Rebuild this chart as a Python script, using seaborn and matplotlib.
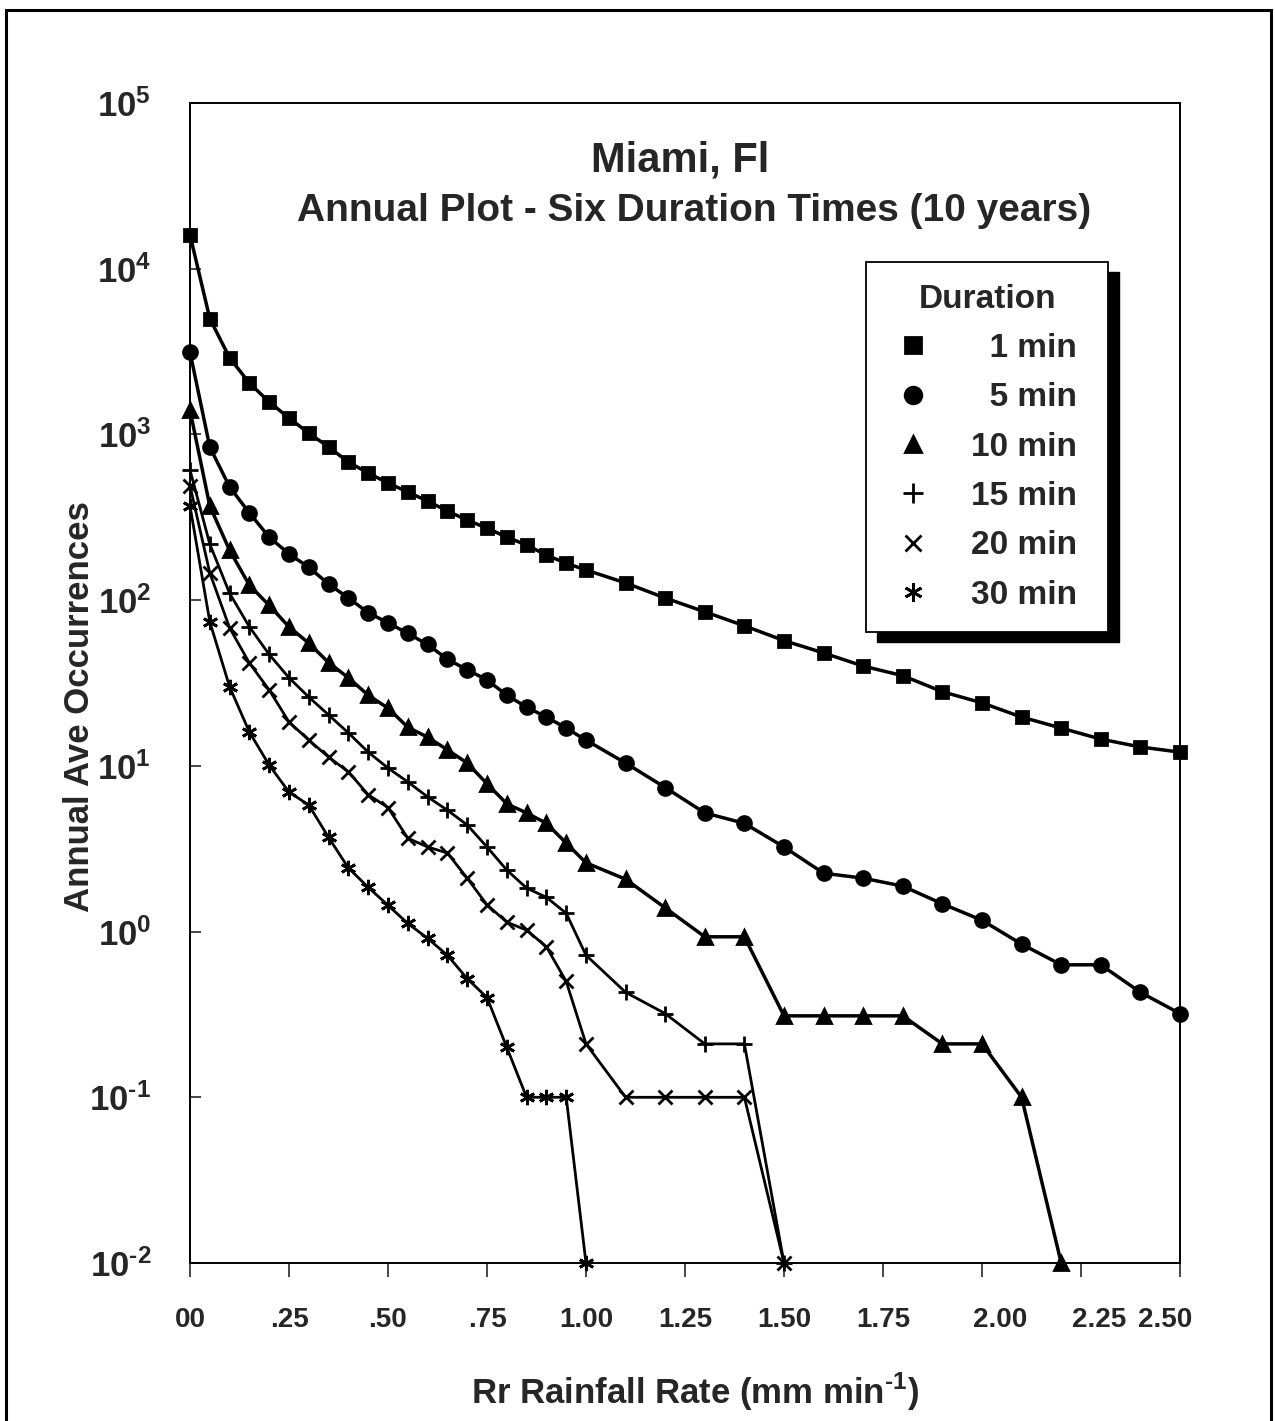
import numpy as np
import pandas as pd
import matplotlib
matplotlib.use('Agg')
import matplotlib.pyplot as plt
import matplotlib.transforms as mtransforms
from matplotlib.lines import Line2D
from matplotlib.patches import Rectangle
import seaborn as sns

# ── data ─────────────────────────────────────────────────────────────────────
x_fine = [0.00, 0.05, 0.10, 0.15, 0.20, 0.25, 0.30, 0.35, 0.40, 0.45, 0.50,
          0.55, 0.60, 0.65, 0.70, 0.75, 0.80, 0.85, 0.90, 0.95, 1.00]
x_coarse = [1.1, 1.2, 1.3, 1.4, 1.5, 1.6, 1.7, 1.8, 1.9, 2.0, 2.1, 2.2, 2.3, 2.4, 2.5]

y_1min = [16000, 5000, 2900, 2040, 1570, 1256, 1018, 840, 681, 585, 509,
          449, 396, 345, 304, 272, 240, 215, 187, 167, 152,
          127, 103, 85, 70, 57, 48, 40, 35, 28, 24, 19.7, 16.9, 14.5, 13, 12.1]
y_5min = [3140, 840, 482, 336, 240, 190, 158, 125, 103, 84, 73,
          63, 54, 44, 38, 33, 26.7, 22.6, 19.7, 16.9, 14.3,
          10.4, 7.4, 5.2, 4.5, 3.24, 2.25, 2.1, 1.88, 1.47, 1.17, 0.84, 0.63, 0.63, 0.43, 0.32]
y_10min = [1400, 370, 200, 123, 93, 69, 55, 42, 34, 26.7, 22.3,
           17.1, 14.9, 12.5, 10.4, 7.8, 5.9, 5.2, 4.5, 3.42, 2.6,
           2.07, 1.39, 0.93, 0.93, 0.31, 0.31, 0.31, 0.31, 0.21, 0.21, 0.10, 0.01]
y_15min = [610, 218, 110, 69, 47, 34, 26, 20.3, 15.8, 12.1, 9.7,
           8.0, 6.5, 5.4, 4.4, 3.24, 2.35, 1.83, 1.61, 1.29, 0.72,
           0.43, 0.32, 0.21, 0.21, 0.01]
y_20min = [490, 146, 68, 41.7, 28.7, 18.4, 14.3, 11.3, 9.2, 6.7, 5.6,
           3.66, 3.24, 2.98, 2.1, 1.45, 1.14, 1.02, 0.81, 0.50, 0.21,
           0.10, 0.10, 0.10, 0.10, 0.01]
y_30min = [370, 74, 30, 16, 10.1, 6.95, 5.8, 3.7, 2.42, 1.85, 1.44,
           1.12, 0.91, 0.72, 0.52, 0.40, 0.20, 0.10, 0.10, 0.10, 0.01]

durations = ['1 min', '5 min', '10 min', '15 min', '20 min', '30 min']
series_y = [y_1min, y_5min, y_10min, y_15min, y_20min, y_30min]

x_ticks = [0, 0.25, 0.5, 0.75, 1.0, 1.25, 1.5, 1.75, 2.0, 2.25, 2.5]
x_ticklabels = ['00', '.25', '.50', '.75', '1.00', '1.25', '1.50', '1.75', '2.00', '2.25', '2.50']
y_exps = [-2, -1, 0, 1, 2, 3, 4, 5]

# ── style ────────────────────────────────────────────────────────────────────
sns.set_style('ticks')
plt.rcParams['font.family'] = ['Liberation Sans', 'DejaVu Sans']
plt.rcParams['font.weight'] = 'bold'
HYPHEN = '\u2010'

markers = {'1 min': 's', '5 min': 'o', '10 min': '^', '15 min': '+', '20 min': 'x', '30 min': (6, 2, 0)}
msize = {'1 min': 9, '5 min': 10, '10 min': 10, '15 min': 12, '20 min': 10, '30 min': 11}
lwidth = {'1 min': 2.5, '5 min': 2.5, '10 min': 2.5, '15 min': 2.0, '20 min': 2.0, '30 min': 2.0}

fig = plt.figure(figsize=(12.75, 14.21), dpi=100)
ax = fig.add_axes([190/1275, 1 - 1263/1421, 990/1275, 1160/1421])

for name, ys in zip(durations, series_y):
    xs = (x_fine + x_coarse)[:len(ys)]
    df = pd.DataFrame({'x': xs, 'y': ys})
    sns.lineplot(data=df, x='x', y='y', ax=ax, color='black', lw=lwidth[name],
                 marker=markers[name], markersize=msize[name], markeredgewidth=2,
                 markeredgecolor='black', markerfacecolor='black',
                 estimator=None, sort=False, clip_on=False, zorder=3)

ax.set_yscale('log')
ax.set_xlim(0, 2.5)
ax.set_ylim(1e-2, 1e5)
ax.set_xlabel('')
ax.set_ylabel('')

ax.set_yticks([10.0**e for e in y_exps])
ax.set_yticklabels(['$\\mathdefault{10^{%s}}$' % str(e).replace('-', HYPHEN) for e in y_exps])
ax.yaxis.set_minor_locator(matplotlib.ticker.NullLocator())
ax.tick_params(axis='y', direction='in', length=8, width=1.2, pad=28, labelsize=25)
for lab in ax.get_yticklabels():
    lab.set_fontweight('bold')

ax.set_xticks(x_ticks)
ax.set_xticklabels(x_ticklabels, fontweight='bold')
ax.tick_params(axis='x', direction='out', length=10, width=1.2, pad=22, labelsize=20)
shift = {'2.00': 13, '2.25': 13, '2.50': -11}
for lab in ax.get_xticklabels():
    if lab.get_text() in shift:
        off = mtransforms.ScaledTranslation(shift[lab.get_text()] / 72, 0, fig.dpi_scale_trans)
        lab.set_transform(lab.get_transform() + off)

for sp in ax.spines.values():
    sp.set_linewidth(1.4)
    sp.set_color('black')

# titles
fig.text(680/1275, 1 - 160/1421, 'Miami, Fl', ha='center', va='center',
         fontsize=30, fontweight='bold')
fig.text(694/1275, 1 - 211/1421, 'Annual Plot - Six Duration Times (10 years)',
         ha='center', va='center', fontsize=28, fontweight='bold')
fig.text(80/1275, 1 - 707/1421, 'Annual Ave Occurrences', rotation=90,
         ha='center', va='center', fontsize=25, fontweight='bold')
fig.text(695/1275, 1 - 1392/1421, 'Rr Rainfall Rate (mm min$^{\\mathdefault{%s1}}$)' % HYPHEN,
         ha='center', va='center', fontsize=25, fontweight='bold')

# legend
handles = [Line2D([], [], color='black', linestyle='None', marker=markers[d],
                  markersize=msize[d] + 2, markeredgewidth=2) for d in durations]
labels = ['  1 min ', '  5 min ', '10 min ', '15 min ', '20 min ', '30 min ']
leg = ax.legend(handles, labels, title='Duration', loc='upper left',
                bbox_to_anchor=(0.683, 0.863), fancybox=False, framealpha=1,
                edgecolor='black', fontsize=24, title_fontsize=24,
                labelspacing=0.55, handletextpad=1.0, borderpad=0.65,
                handlelength=1.5, borderaxespad=0)
leg.get_title().set_fontweight('bold')
leg.get_frame().set_linewidth(1.3)
leg.set_zorder(6)

# drop shadow behind legend box
fig.canvas.draw()
bb = leg.get_window_extent().transformed(ax.transAxes.inverted())
ax.add_patch(Rectangle((bb.x0 + 11/990, bb.y0 - 10/1160), bb.width, bb.height,
                       transform=ax.transAxes, color='black', zorder=5.9, clip_on=False))

# frame round the whole figure
fig.add_artist(Rectangle((6/1275, -0.01), 1 - 10/1275, 1 - 10/1421 + 0.01,
                         transform=fig.transFigure, fill=False, lw=2.2, ec='black'))

fig.savefig('out.png', dpi=100)
